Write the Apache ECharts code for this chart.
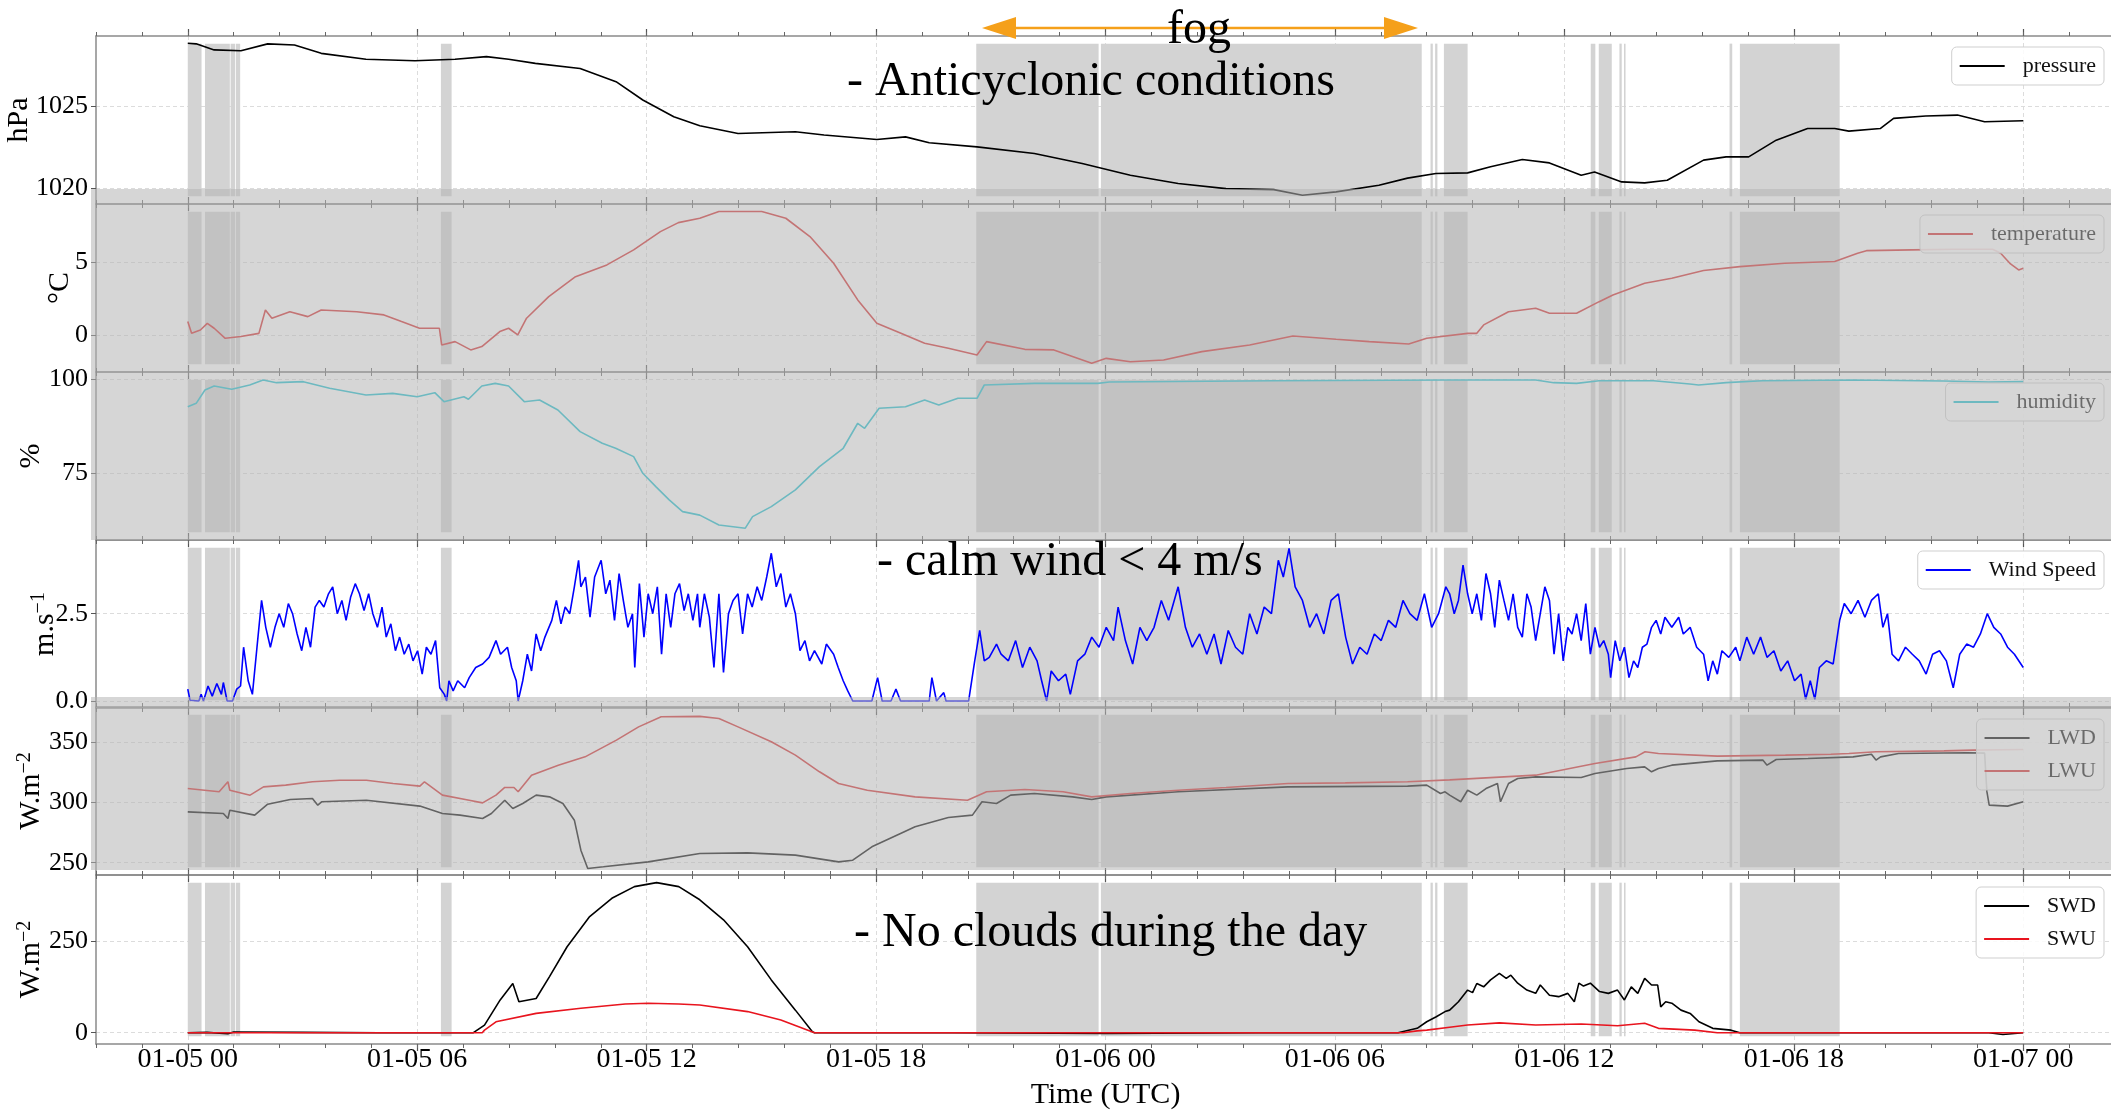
<!DOCTYPE html>
<html><head><meta charset="utf-8">
<script src="https://cdn.jsdelivr.net/npm/echarts@6/dist/echarts.min.js"></script>
<style>html,body{margin:0;padding:0;background:#fff}#c{width:2111px;height:1112px}</style>
</head><body><div id="c"></div><script>
const FONT = '"Liberation Serif", "DejaVu Serif", serif';

// ---- axis tick values / labels (hours from 01-05 00 UTC) ----
const xTickValues = [0, 6, 12, 18, 24, 30, 36, 42, 48];
const xTickLabels = ['01-05 00','01-05 06','01-05 12','01-05 18','01-06 00','01-06 06','01-06 12','01-06 18','01-07 00'];

// fog periods [start h, end h]
const fogSpans = [[0,0.36],[0.45,1.1],[1.12,1.24],[1.26,1.37],[6.62,6.9],[20.62,23.82],[23.88,32.27],
  [32.5,32.56],[32.62,32.68],[32.85,33.47],[36.69,36.81],[36.9,37.24],[37.44,37.5],[37.56,37.6],[40.32,40.39],[40.59,43.2]];

// ---- series values [hour, value] ----
const pressure = [[0,1028.84],[0.22,1028.8],[0.69,1028.43],[1.39,1028.38],[2.09,1028.8],[2.79,1028.73],[3.49,1028.22],[4.66,1027.86],[5.94,1027.77],[6.99,1027.86],[7.81,1028.02],[8.39,1027.86],[9.09,1027.61],[10.26,1027.3],[11.2,1026.49],[11.9,1025.37],[12.71,1024.35],[13.39,1023.8],[14.39,1023.33],[15.89,1023.43],[16.64,1023.23],[18.02,1022.96],[18.77,1023.12],[19.39,1022.76],[20.64,1022.51],[22.14,1022.1],[23.39,1021.49],[24.65,1020.78],[25.9,1020.27],[27.15,1019.96],[28.4,1019.9],[29.15,1019.55],[30.03,1019.76],[31.15,1020.17],[31.9,1020.6],[32.64,1020.88],[33.47,1020.92],[34.07,1021.29],[34.9,1021.74],[35.61,1021.53],[36.44,1020.78],[36.79,1020.98],[37.5,1020.37],[38.1,1020.31],[38.69,1020.47],[39.64,1021.7],[40.23,1021.9],[40.82,1021.9],[41.54,1022.92],[42.36,1023.63],[43.07,1023.63],[43.44,1023.47],[44.26,1023.63],[44.61,1024.25],[45.45,1024.39],[46.28,1024.45],[46.99,1024.04],[48,1024.1]];

const temperature = [[0,0.92],[0.1,0.11],[0.33,0.34],[0.51,0.8],[0.69,0.46],[0.98,-0.23],[1.39,-0.11],[1.86,0.11],[2.03,1.72],[2.2,1.15],[2.67,1.6],[3.14,1.26],[3.49,1.72],[4.42,1.6],[5.13,1.38],[5.59,0.92],[6.06,0.46],[6.58,0.46],[6.64,-0.69],[6.99,-0.46],[7.4,-1.03],[7.69,-0.8],[8.16,0.23],[8.39,0.46],[8.63,0],[8.86,1.15],[9.44,2.64],[10.14,4.01],[10.96,4.82],[11.66,5.85],[12.36,7.11],[12.83,7.73],[13.39,8.03],[13.89,8.49],[15.01,8.49],[15.64,8.03],[16.27,6.77],[16.89,4.93],[17.52,2.41],[18.02,0.8],[18.65,0.11],[19.27,-0.57],[19.89,-0.92],[20.64,-1.38],[20.89,-0.46],[21.89,-0.99],[22.65,-1.03],[23.64,-1.95],[24.02,-1.61],[24.65,-1.84],[25.52,-1.72],[26.52,-1.15],[27.77,-0.69],[28.9,-0.07],[30.03,-0.3],[30.9,-0.46],[31.93,-0.62],[32.4,-0.23],[33.47,0.11],[33.71,0.11],[33.89,0.69],[34.54,1.6],[35.25,1.84],[35.61,1.49],[36.32,1.49],[36.91,2.29],[37.27,2.75],[38.1,3.56],[38.81,3.9],[39.64,4.43],[40.59,4.7],[41.76,4.93],[43.07,5.05],[43.67,5.62],[43.9,5.8],[45.09,5.85],[46.2,5.9],[47.2,5.9],[47.41,5.62],[47.65,4.93],[47.88,4.47],[48,4.59]];

const humidity = [[0,92.66],[0.22,93.55],[0.45,97.08],[0.69,98.14],[1.15,97.27],[1.62,98.41],[1.97,99.73],[2.32,99.03],[3.02,99.3],[3.71,97.53],[4.66,95.76],[5.36,96.2],[6.0,95.3],[6.46,96.38],[6.7,93.99],[7.22,95.3],[7.34,94.62],[7.69,98.14],[8.04,98.85],[8.39,98.14],[8.8,93.99],[9.2,94.43],[9.68,91.78],[10.26,86.04],[10.84,82.96],[11.19,81.63],[11.66,79.41],[11.9,75.0],[12.24,71.46],[12.59,67.93],[12.94,64.83],[13.39,63.9],[13.89,61.3],[14.58,60.43],[14.77,63.5],[15.26,66.15],[15.89,70.58],[16.52,76.76],[17.14,81.63],[17.52,88.26],[17.7,86.93],[18.08,92.23],[18.77,92.66],[19.27,94.43],[19.64,93.11],[20.14,94.88],[20.64,94.88],[20.83,98.41],[22.14,98.85],[23.8,98.85],[24.1,99.2],[28.4,99.55],[33.0,99.73],[35.25,99.73],[35.72,99.03],[36.32,98.85],[36.91,99.55],[38.33,99.55],[39.28,98.67],[39.51,98.41],[40.23,99.03],[41.18,99.55],[43.55,99.73],[45.92,99.47],[47.1,99.2],[48,99.3]];

const windSpeed = [[0,0.34],[0.06,0.02],[0.29,0],[0.35,0.19],[0.41,0],[0.53,0.43],[0.64,0.14],[0.76,0.5],[0.88,0.19],[0.93,0.53],[1.03,0],[1.17,0],[1.28,0.34],[1.38,0.43],[1.46,1.54],[1.58,0.58],[1.69,0.19],[1.81,1.54],[1.93,2.88],[2.04,2.11],[2.16,1.54],[2.28,2.11],[2.39,2.5],[2.51,2.11],[2.63,2.79],[2.74,2.5],[2.86,1.92],[2.98,1.44],[3.09,2.11],[3.21,1.54],[3.33,2.69],[3.44,2.88],[3.56,2.69],[3.68,3.07],[3.79,3.27],[3.91,2.5],[4.03,2.88],[4.14,2.31],[4.26,2.98],[4.38,3.36],[4.49,3.07],[4.61,2.59],[4.73,3.07],[4.84,2.5],[4.96,2.11],[5.08,2.69],[5.19,1.83],[5.31,2.21],[5.43,1.44],[5.54,1.83],[5.66,1.34],[5.78,1.63],[5.89,1.15],[6.01,1.44],[6.13,0.77],[6.24,1.54],[6.36,1.34],[6.48,1.73],[6.59,0.38],[6.71,0.19],[6.77,0],[6.83,0.58],[6.94,0.29],[7.06,0.58],[7.24,0.38],[7.36,0.67],[7.53,0.96],[7.71,1.06],[7.88,1.25],[8.06,1.73],[8.18,1.34],[8.36,1.54],[8.47,0.96],[8.59,0.58],[8.64,0],[8.76,0.58],[8.88,1.34],[8.99,0.86],[9.11,1.92],[9.23,1.44],[9.34,1.83],[9.52,2.31],[9.64,2.88],[9.76,2.21],[9.87,2.69],[9.99,2.5],[10.11,3.27],[10.22,4.03],[10.28,3.27],[10.4,3.55],[10.52,2.4],[10.64,3.55],[10.81,4.03],[10.93,3.07],[11.04,3.46],[11.16,2.31],[11.28,3.65],[11.39,2.88],[11.51,2.11],[11.63,2.5],[11.69,0.96],[11.81,3.36],[11.93,1.83],[12.04,3.07],[12.16,2.5],[12.28,3.27],[12.39,1.34],[12.51,3.07],[12.63,2.11],[12.74,3.07],[12.86,3.36],[12.98,2.59],[13.09,3.07],[13.21,2.31],[13.33,3.07],
[13.39,2.11],[13.51,3.07],[13.64,2.4],[13.76,0.96],[13.89,3.07],[14.01,0.82],[14.14,2.5],[14.26,2.88],[14.39,3.07],[14.51,1.92],[14.64,3.07],[14.76,2.69],[14.89,3.27],[15.01,2.88],[15.14,3.55],[15.26,4.23],[15.39,3.27],[15.51,3.65],[15.64,2.69],[15.76,3.07],[15.89,2.5],[16.01,1.44],[16.14,1.73],[16.26,1.15],[16.39,1.44],[16.58,1.06],[16.7,1.63],[16.89,1.34],[17.01,0.96],[17.14,0.58],[17.26,0.29],[17.39,0],[17.89,0],[18.04,0.67],[18.16,0],[18.39,0],[18.52,0.34],[18.64,0],[19.39,0],[19.46,0.67],[19.58,0],[19.77,0.24],[19.83,0],[20.42,0],[20.58,1.15],[20.71,2.02],[20.83,1.15],[20.96,1.25],[21.15,1.63],[21.27,1.34],[21.46,1.15],[21.65,1.73],[21.83,0.96],[22.02,1.54],[22.21,1.15],[22.33,0.58],[22.46,0],[22.58,0.86],[22.77,0.58],[22.96,0.77],[23.08,0.19],[23.27,1.15],[23.46,1.34],[23.64,1.83],[23.83,1.54],[24.02,2.11],[24.21,1.73],[24.33,2.69],[24.52,1.73],[24.71,1.06],[24.9,2.11],[25.08,1.73],[25.27,2.11],[25.46,2.88],[25.65,2.31],[25.9,3.27],[26.09,2.11],[26.27,1.54],[26.46,1.92],[26.65,1.34],[26.84,1.92],[27.02,1.06],[27.21,2.02],[27.4,1.54],[27.59,1.34],[27.77,2.5],[27.96,1.92],[28.15,2.69],[28.34,2.5],[28.52,4.03],[28.65,3.55],[28.8,4.37],[28.96,3.27],[29.15,2.88],[29.34,2.11],[29.52,2.5],[29.71,1.92],[29.9,2.88],[30.09,3.07],[30.28,1.83],[30.46,1.06],[30.65,1.54],[30.84,1.34],[31.03,1.92],[31.21,1.73],[31.4,2.31],[31.59,2.11],[31.78,2.88],[31.96,2.5],[32.15,2.31],[32.34,3.07],[32.53,2.11],[32.71,2.5],[32.9,3.27],
[33.0,3.07],[33.12,2.5],[33.23,2.88],[33.35,3.89],[33.47,3.07],[33.59,2.5],[33.71,3.07],[33.83,2.31],[33.95,3.65],[34.07,3.07],[34.18,2.11],[34.3,3.46],[34.42,2.88],[34.54,2.31],[34.66,3.07],[34.78,2.11],[34.9,1.83],[35.02,3.07],[35.13,2.69],[35.25,1.73],[35.37,2.5],[35.49,3.27],[35.61,2.88],[35.73,1.34],[35.85,2.5],[35.97,1.15],[36.09,2.11],[36.2,1.92],[36.32,2.5],[36.44,1.73],[36.56,2.79],[36.68,1.34],[36.8,2.11],[36.92,1.54],[37.03,1.73],[37.15,1.34],[37.21,0.67],[37.33,1.73],[37.45,1.15],[37.57,1.54],[37.69,0.67],[37.81,1.15],[37.92,0.96],[38.04,1.54],[38.16,1.63],[38.28,2.11],[38.4,2.31],[38.52,1.92],[38.63,2.4],[38.81,2.11],[38.99,2.4],[39.11,1.92],[39.29,2.11],[39.46,1.54],[39.64,1.34],[39.76,0.58],[39.88,1.15],[40.0,0.77],[40.12,1.44],[40.3,1.25],[40.48,1.54],[40.59,1.15],[40.77,1.83],[40.95,1.34],[41.13,1.83],[41.3,1.25],[41.48,1.44],[41.66,0.86],[41.84,1.15],[42.02,0.58],[42.19,0.77],[42.31,0.05],[42.43,0.58],[42.55,0.05],[42.67,0.96],[42.85,1.15],[43.03,1.06],[43.2,2.31],[43.32,2.79],[43.5,2.5],[43.68,2.88],[43.86,2.4],[44.03,2.88],[44.21,3.07],[44.33,2.11],[44.45,2.5],[44.57,1.34],[44.74,1.15],[44.92,1.54],[45.1,1.34],[45.28,1.15],[45.46,0.77],[45.63,1.34],[45.81,1.44],[45.99,1.15],[46.17,0.38],[46.34,1.34],[46.52,1.63],[46.7,1.54],[46.88,1.92],[47.06,2.5],[47.23,2.11],[47.41,1.92],[47.59,1.54],[47.77,1.34],[48,0.96]];

const LWD = [[0,292.2],[0.93,290.9],[1.05,286.7],[1.1,293.6],[1.75,289.5],[2.09,298.6],[2.68,302.5],[3.26,303.3],[3.4,297.8],[3.5,300.6],[4.67,301.9],[6.07,297],[6.66,290.9],[7.12,289.5],[7.71,286.7],[7.94,290.9],[8.29,301.9],[8.5,295],[8.76,299.2],[9.11,306.1],[9.46,304.7],[9.81,299.2],[10.11,285.3],[10.28,260.4],[10.46,245.2],[10.87,246.6],[12.04,250.7],[13.39,257.6],[14.64,258.2],[15.89,256.3],[17.02,250.7],[17.39,252.1],[17.89,263.2],[18.64,274.3],[19.02,279.8],[19.89,287.5],[20.52,289.5],[20.77,300.6],[21.15,299.2],[21.52,306.1],[22.14,307.5],[23.14,304.7],[23.64,302.5],[24.02,304.7],[25.9,308.9],[28.77,313],[31.9,313.6],[32.4,314.4],[32.76,307.5],[32.88,308.9],[33.0,306.1],[33.29,300.6],[33.47,310.2],[33.71,306.1],[33.95,311.6],[34.25,315.8],[34.33,300.6],[34.54,315.8],[34.78,319.9],[35.25,321.3],[36.44,320.8],[36.8,324.1],[37.63,328.2],[38.1,329.6],[38.28,325.5],[38.46,328.2],[38.81,331],[40.0,334.6],[41.19,335.2],[41.3,331],[41.54,335.7],[42.37,336.5],[43.55,337.9],[44.03,340.1],[44.15,335.2],[44.27,337.9],[44.74,340.7],[46.52,341.3],[46.99,341],[47.05,309],[47.11,297.8],[47.59,297],[48,300.6]];

const LWU = [[0,311.6],[0.82,308.9],[1.05,317.2],[1.1,310.2],[1.63,306.1],[1.98,313],[2.56,314.4],[3.26,317.2],[3.97,318.5],[4.67,318.5],[5.37,315.8],[6.07,313.6],[6.19,317.2],[6.66,306.1],[7.36,301.9],[7.71,299.7],[8.06,306.1],[8.29,312.5],[8.53,312.5],[8.64,308.9],[8.99,322.7],[9.69,331],[10.39,337.9],[11.21,351.8],[11.79,362.8],[12.38,371.2],[13.39,371.5],[13.89,369.8],[14.39,362.8],[15.26,350.4],[15.89,339.3],[16.52,325.5],[17.02,315.8],[17.77,310.2],[19.02,304.7],[20.39,301.9],[20.89,308.9],[21.89,310.8],[22.89,308.9],[23.64,304.7],[24.65,307.5],[25.9,310.2],[27.15,312.5],[28.77,315.8],[30.27,316.3],[31.9,317.2],[33.0,318.8],[35.25,322.7],[36.8,332.4],[37.87,337.9],[38.11,342.1],[38.46,340.7],[40.0,338.5],[41.78,339.3],[42.97,340.1],[43.44,340.7],[44.15,342.1],[45.93,342.9],[46.7,343.5],[48,344]];

const SWD = [[0,0],[0.5,1],[1.05,-3],[1.2,2],[3,1],[5,0],[7.47,0],[7.76,21],[8.17,90],[8.5,135],[8.66,85],[9.11,94],[9.46,154],[9.92,236],[10.51,319],[11.09,369],[11.68,401],[12.26,412],[12.84,401],[13.39,365],[14.01,310],[14.64,236],[15.26,145],[15.89,62],[16.33,3],[16.39,0],[20,0],[24,-2],[28,0],[31.65,0],[32.15,12],[32.4,30],[32.65,44],[32.88,58],[33.0,62],[33.23,85],[33.47,117],[33.6,110],[33.71,135],[33.89,126],[34.07,145],[34.3,163],[34.48,149],[34.6,158],[34.78,136],[35.02,117],[35.25,108],[35.37,131],[35.61,103],[35.85,99],[36.09,108],[36.26,85],[36.38,136],[36.5,128],[36.68,136],[36.92,113],[37.15,108],[37.39,117],[37.57,90],[37.75,126],[37.92,108],[38.1,149],[38.28,131],[38.44,131],[38.52,71],[38.65,85],[38.81,81],[39.05,62],[39.29,53],[39.52,30],[39.88,12],[40.36,7],[40.59,0],[47.1,0],[47.47,-5],[48,0]];

const SWU = [[0,0],[7.7,0],[7.76,7],[8.06,30],[9.11,53],[10.28,67],[11.44,79],[12.04,81],[12.84,79],[13.39,76],[14.64,58],[15.51,35],[16.39,0],[31.78,0],[32.15,5],[32.4,7],[33.0,15],[33.47,21],[34.3,27],[35.25,21],[36.44,24],[37.39,19],[38.1,26],[38.46,12],[39.41,7],[40.0,0],[48,0]];

// ---- y tick values per panel ----
const pressureTicks = [1020, 1025];
const temperatureTicks = [0, 5];
const humidityTicks = [75, 100];
const windTicks = [0, 2.5];
const lwTicks = [250, 300, 350];
const swTicks = [0, 250];

const panels = [
  {top:36, min:1019.02, max:1029.28, ticks:pressureTicks, fmt:v=>String(v), name:'hPa', nameGap:62,
   series:[{name:'pressure', data:pressure, color:'#000'}], legendTop:47},
  {top:204, min:-2.55, max:9.01, ticks:temperatureTicks, fmt:v=>String(v), name:'°C', nameGap:21,
   series:[{name:'temperature', data:temperature, color:'#d62728'}], legendTop:215},
  {top:372, min:57.3, max:101.86, ticks:humidityTicks, fmt:v=>String(v), name:'%', nameGap:50,
   series:[{name:'humidity', data:humidity, color:'#17becf'}], legendTop:383},
  {top:540, min:-0.2, max:4.61, ticks:windTicks, fmt:v=>v.toFixed(1), name:'{a|m.s}{b|−1}', nameGap:35,
   series:[{name:'Wind Speed', data:windSpeed, color:'#0000ff'}], legendTop:551},
  {top:707, min:239.8, max:379.3, ticks:lwTicks, fmt:v=>String(v), name:'{a|W.m}{b|−2}', nameGap:49,
   series:[{name:'LWD', data:LWD, color:'#000'},{name:'LWU', data:LWU, color:'#d62728'}], legendTop:719},
  {top:875, min:-31, max:433, ticks:swTicks, fmt:v=>String(v), name:'{a|W.m}{b|−2}', nameGap:49,
   series:[{name:'SWD', data:SWD, color:'#000'},{name:'SWU', data:SWU, color:'#e8141e'}], legendTop:887}
];

const grids = [], xAxes = [], yAxes = [], series = [], legends = [];
const spine = '#8a8a8a';
const gridLine = {show:true, lineStyle:{color:'#dcdcdc', width:1, type:[4,3]}};
const nameRich = {a:{fontSize:30, fontFamily:FONT, color:'#000'}, b:{fontSize:20, fontFamily:FONT, color:'#000', verticalAlign:'top', padding:[0,0,12,0]}};

panels.forEach((p, i) => {
  const last = i === panels.length - 1;
  grids.push({left:96, right:-4, top:p.top, height: last ? 169 : 168, containLabel:false, outerBoundsMode:'none'});
  const base = {gridIndex:i, type:'value', min:-2.4, max:50.4};
  // bottom major
  xAxes.push(Object.assign({}, base, {
    position:'bottom',
    axisLine:{show:true, onZero:false, lineStyle:{color:spine, width:1.5}},
    axisTick:{show:true, customValues:xTickValues, length:7, lineStyle:{color:'#555', width:1.2}},
    axisLabel:{show:last, customValues:xTickValues, formatter:v=>xTickLabels[xTickValues.indexOf(v)],
      fontSize:28, fontFamily:FONT, color:'#000', margin:2},
    splitLine:gridLine,
    name: last ? 'Time (UTC)' : '', nameLocation:'middle', nameGap:36, nameMoveOverlap:false,
    nameTextStyle:{fontSize:30, fontFamily:FONT, color:'#000'}
  }));
  // bottom minor
  xAxes.push(Object.assign({}, base, {
    position:'bottom', interval:1.2,
    axisLine:{show:false, onZero:false}, axisTick:{show:true, length:4, lineStyle:{color:'#666'}},
    axisLabel:{show:false}, splitLine:{show:false}
  }));
  // top major
  xAxes.push(Object.assign({}, base, {
    position:'top',
    axisLine:{show:true, onZero:false, lineStyle:{color:spine, width:1.5}},
    axisTick:{show:true, customValues:xTickValues, length:7, lineStyle:{color:'#555', width:1.2}},
    axisLabel:{show:false}, splitLine:{show:false}
  }));
  // top minor
  xAxes.push(Object.assign({}, base, {
    position:'top', interval:1.2,
    axisLine:{show:false, onZero:false}, axisTick:{show:true, length:4, lineStyle:{color:'#666'}},
    axisLabel:{show:false}, splitLine:{show:false}
  }));
  yAxes.push({
    gridIndex:i, type:'value', min:p.min, max:p.max, position:'left',
    axisLine:{show:true, onZero:false, lineStyle:{color:spine, width:1.5}},
    axisTick:{show:true, customValues:p.ticks, length:5, lineStyle:{color:'#555'}},
    axisLabel:{customValues:p.ticks, formatter:p.fmt, fontSize:26, fontFamily:FONT, color:'#000', margin:8},
    splitLine:gridLine,
    name:p.name, nameLocation:'middle', nameGap:p.nameGap, nameRotate:90, nameMoveOverlap:false,
    nameTextStyle:{fontSize:30, fontFamily:FONT, color:'#000', rich:nameRich}
  });
  const span = p.max - p.min;
  const lo = p.min + span * 0.05 / 1.1, hi = p.max - span * 0.05 / 1.1;
  p.series.forEach((s, k) => {
    const ser = {
      name:s.name, type:'line', xAxisIndex:4*i, yAxisIndex:i, data:s.data,
      showSymbol:false, symbol:'none', color:s.color,
      lineStyle:{color:s.color, width:1.6}, animation:false, clip:true
    };
    if (k === 0) {
      ser.markArea = {silent:true, itemStyle:{color:'#d3d3d3'},
        data: fogSpans.map(f => [{xAxis:f[0], yAxis:lo}, {xAxis:f[1], yAxis:hi}])};
    }
    series.push(ser);
  });
  legends.push({
    data:p.series.map(s=>s.name), right:7, top:p.legendTop, orient:'vertical',
    icon:'rect', itemWidth:45, itemHeight:2, itemGap:11, padding:[8,8,8,8],
    backgroundColor:'rgba(255,255,255,0.85)', borderColor:'#cfcfcf', borderWidth:1, borderRadius:5,
    selectedMode:false,
    textStyle:{fontSize:22, fontFamily:FONT, color:'#111', padding:[0,0,0,13], lineHeight:22}
  });
});

const orange = '#f5a01a';
const txt = (text, x, y, align) => ({type:'text', z:120, silent:true,
  style:{text, x, y, font:'48px "Liberation Serif", "DejaVu Serif", serif', fill:'#000',
    textAlign:align, align:align, textVerticalAlign:'middle', verticalAlign:'middle'}});

const option = {
  animation:false,
  backgroundColor:'#fff',
  grid:grids, xAxis:xAxes, yAxis:yAxes, series, legend:legends,
  graphic:{elements:[
    {type:'rect', z:100, silent:true, shape:{x:91, y:189, width:2020, height:351}, style:{fill:'rgba(180,180,180,0.55)'}},
    {type:'rect', z:100, silent:true, shape:{x:91, y:697, width:2020, height:173}, style:{fill:'rgba(180,180,180,0.55)'}},
    {type:'line', z:110, silent:true, shape:{x1:1012, y1:28, x2:1388, y2:28}, style:{stroke:orange, lineWidth:2.5}},
    {type:'polygon', z:110, silent:true, shape:{points:[[982,28],[1016,17],[1016,39]]}, style:{fill:orange}},
    {type:'polygon', z:110, silent:true, shape:{points:[[1418,28],[1384,17],[1384,39]]}, style:{fill:orange}},
    txt('fog', 1199, 30, 'center'),
    txt('- Anticyclonic conditions', 847, 82, 'left'),
    txt('- calm wind < 4 m/s', 877, 562, 'left'),
    txt('- No clouds during the day', 854, 933, 'left')
  ]}
};

const chart = echarts.init(document.getElementById('c'), null, {renderer:'canvas'});
chart.setOption(option);
</script></body></html>
